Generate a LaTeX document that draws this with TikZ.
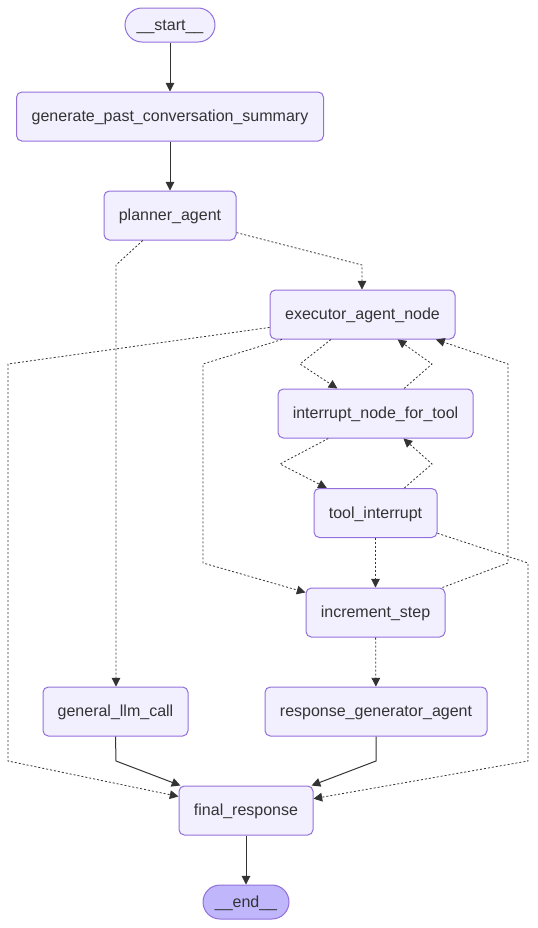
\documentclass[tikz,border=0pt]{standalone}
\usepackage{fontspec}
\setmainfont{Liberation Sans}
\usetikzlibrary{arrows.meta}
\definecolor{nodefill}{HTML}{F2F0FF}
\definecolor{nodeline}{HTML}{9370DB}
\definecolor{endfill}{HTML}{BFB6FC}
\definecolor{ink}{HTML}{333333}
\begin{document}
\begin{tikzpicture}[x=0.75pt,y=-0.75pt,
	box/.style={draw=nodeline,fill=nodefill,line width=0.75pt,rounded corners=4pt,
		minimum height=36.75pt,inner sep=0pt,text=ink,text height=9pt,text depth=1pt,
		font=\fontsize{12pt}{14pt}\selectfont},
	terminal/.style={box,rounded corners=12.75pt,minimum height=25.5pt},
	solidedge/.style={draw=ink,line width=0.75pt,-{Triangle[length=6.5pt,width=6.5pt]}},
	condedge/.style={solidedge,line width=0.6pt,dash pattern=on 1.5pt off 1.5pt}]
	\useasboundingbox (0,0) rectangle (537,928);
	% nodes
	\node[terminal,minimum width=67.5pt] (start) at (170,25) {\_\_start\_\_};
	\node[box,minimum width=230.25pt] (summary) at (170,116.5) {generate\_past\_conversation\_summary};
	\node[box,minimum width=99pt] (planner) at (170,215.5) {planner\_agent};
	\node[box,minimum width=138.75pt] (executor) at (362.5,314.5) {executor\_agent\_node};
	\node[box,minimum width=146.25pt] (interrupt) at (375.5,413.5) {interrupt\_node\_for\_tool};
	\node[box,minimum width=92.25pt] (tool) at (375.5,513) {tool\_interrupt};
	\node[box,minimum width=104.25pt] (increment) at (375.5,612.5) {increment\_step};
	\node[box,minimum width=108.75pt] (llmcall) at (115.5,711.5) {general\_llm\_call};
	\node[box,minimum width=166.5pt] (respgen) at (376,711.5) {response\_generator\_agent};
	\node[box,minimum width=100.5pt] (final) at (246,810.5) {final\_response};
	\node[terminal,fill=endfill,minimum width=64.5pt] (end) at (246,902) {\_\_end\_\_};
	% solid edges
	\draw[solidedge] (start) -- (summary);
	\draw[solidedge] (summary) -- (planner);
	\draw[solidedge] (llmcall.south) -- (116,761) -- (final);
	\draw[solidedge] (respgen.south) -- (376,761) -- (final);
	\draw[solidedge] (final) -- (end);
	% conditional edges
	\draw[condedge] (planner) -- (362,265) -- (executor.north -| 362,0);
	\draw[condedge] (planner) -- (116,265) -- (llmcall.north -| 116,0);
	\draw[condedge] (executor) -- (8,364) -- (8,761) -- (final);
	\draw[condedge] (executor) -- (203,364) -- (203,563) -- (increment);
	\draw[condedge] (executor) -- (300,364) -- (interrupt);
	\draw[condedge] (interrupt) -- (432,364) -- (executor);
	\draw[condedge] (increment) -- (508,563) -- (508,364) -- (executor);
	\draw[condedge] (interrupt) -- (280,464) -- (tool);
	\draw[condedge] (tool) -- (432,464) -- (interrupt);
	\draw[condedge] (tool) -- (increment);
	\draw[condedge] (tool) -- (528,563) -- (528,761) -- (final);
	\draw[condedge] (increment) -- (respgen);
\end{tikzpicture}
\end{document}
